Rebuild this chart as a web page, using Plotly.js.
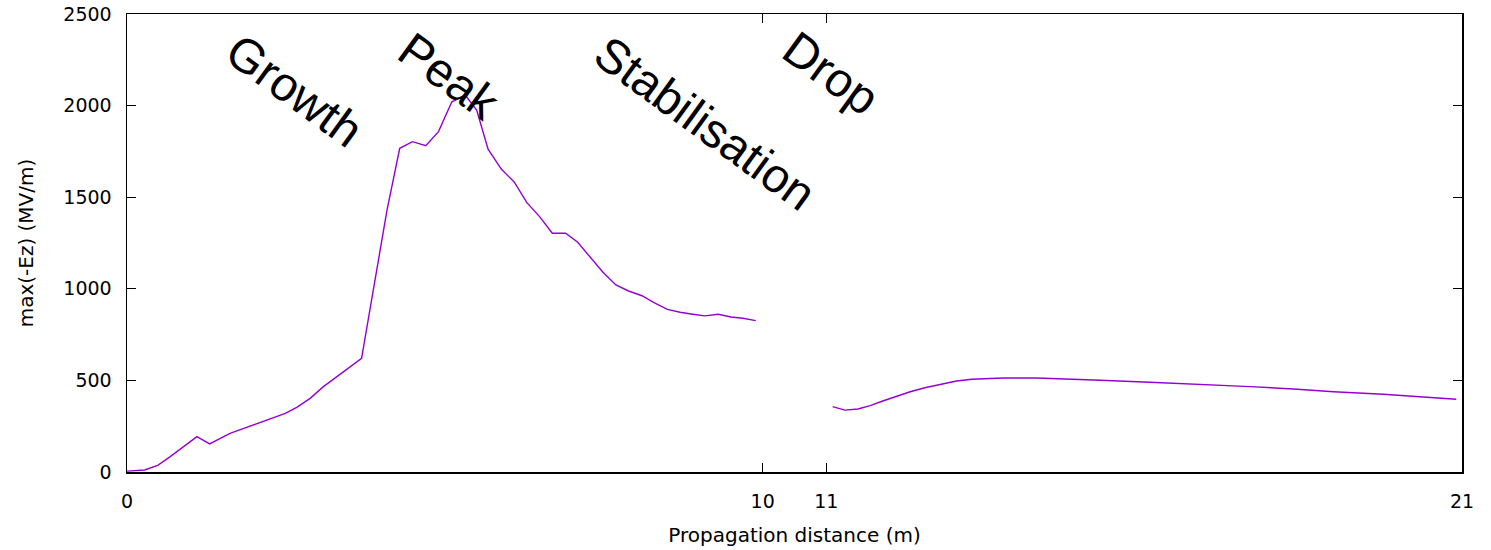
<!DOCTYPE html>
<html>
<head>
<meta charset="utf-8">
<script src="https://cdn.plot.ly/plotly-3.0.1.min.js"></script>
<style>
  html, body { margin: 0; padding: 0; background: #fff; }
  #chart { width: 1491px; height: 550px; }
</style>
</head>
<body>
<div id="chart"></div>
<script>
// Peak accelerating field along the propagation distance (first section, 0-10 m)
const distA = [0, 0.28, 0.49, 0.68, 1.10, 1.30, 1.62, 2.07, 2.49, 2.67, 2.88, 3.09, 3.27, 3.48, 3.69,
  4.09, 4.29, 4.49, 4.70, 4.90, 5.11, 5.19, 5.32, 5.50, 5.68, 5.89, 6.09, 6.29, 6.49, 6.69, 6.90,
  7.09, 7.28, 7.48, 7.69, 7.89, 8.10, 8.29, 8.50, 8.70, 8.90, 9.09, 9.30, 9.50, 9.69, 9.89];
const fieldA = [5, 11, 38, 84, 193, 153, 211, 269, 320, 353, 402, 466, 511, 566, 620,
  1430, 1767, 1803, 1781, 1858, 2021, 2034, 2058, 1976, 1762, 1652, 1583, 1470, 1394, 1303, 1303,
  1254, 1175, 1093, 1021, 988, 962, 924, 888, 872, 861, 852, 861, 846, 839, 826];

// Second section, 11-21 m
const distB = [11.10, 11.29, 11.50, 11.69, 11.90, 12.11, 12.32, 12.55, 12.79, 13.05, 13.29, 13.52,
  13.78, 14.31, 14.78, 15.31, 16.09, 16.88, 17.67, 18.35, 18.98, 19.76, 20.29, 20.91];
const fieldB = [357, 338, 344, 362, 389, 415, 438, 460, 479, 497, 506, 508,
  513, 513, 508, 501, 490, 479, 466, 453, 438, 424, 411, 397];

// Axis ticks
const xTicks = [0, 10, 11, 21];
const xTickText = ['0', '10', '11', '21'];
const yTicks = [0, 500, 1000, 1500, 2000, 2500];

// Phase labels written across the plot
const phaseNames = ['Growth', 'Peak', 'Stabilisation', 'Drop'];
const phaseX = [2.63, 5.07, 9.10, 11.08];
const phaseY = [2080, 2160, 1905, 2175];

const lineColor = '#9400d3';
const traces = [
  { x: distA, y: fieldA, type: 'scatter', mode: 'lines',
    line: { color: lineColor, width: 1.4 }, showlegend: false, hoverinfo: 'x+y' },
  { x: distB, y: fieldB, type: 'scatter', mode: 'lines',
    line: { color: lineColor, width: 1.4 }, showlegend: false, hoverinfo: 'x+y' }
];

const tickFont = { family: 'DejaVu Sans', size: 19, color: '#000' };
const titleFont = { family: 'DejaVu Sans', size: 20, color: '#000' };

const annotations = phaseNames.map((name, i) => ({
  text: name, x: phaseX[i], y: phaseY[i], xref: 'x', yref: 'y',
  showarrow: false, textangle: 36,
  font: { family: 'Liberation Sans', size: 48, color: '#000' }
}));

const layout = {
  width: 1491, height: 550,
  margin: { l: 127, r: 29, t: 14, b: 78, pad: 0 },
  paper_bgcolor: '#fff', plot_bgcolor: '#fff',
  showlegend: false,
  xaxis: {
    range: [0, 21], tickmode: 'array', tickvals: xTicks, ticktext: xTickText,
    ticks: 'inside', ticklen: 9, tickwidth: 1.3, tickcolor: '#000',
    showline: true, linecolor: '#000', linewidth: 1.5, mirror: 'ticks',
    showgrid: false, zeroline: false, tickfont: tickFont, ticklabelstandoff: 12,
    title: { text: 'Propagation distance (m)', font: titleFont, standoff: 16 }
  },
  yaxis: {
    range: [0, 2500], tickmode: 'array', tickvals: yTicks,
    ticks: 'inside', ticklen: 9, tickwidth: 1.3, tickcolor: '#000',
    showline: true, linecolor: '#000', linewidth: 1.5, mirror: 'ticks',
    showgrid: false, zeroline: false, tickfont: tickFont, ticklabelstandoff: 10,
    title: { text: 'max(-Ez) (MV/m)', font: titleFont, standoff: 24 }
  },
  annotations: annotations
};

Plotly.newPlot('chart', traces, layout, { displayModeBar: false, staticPlot: true });
</script>
</body>
</html>
